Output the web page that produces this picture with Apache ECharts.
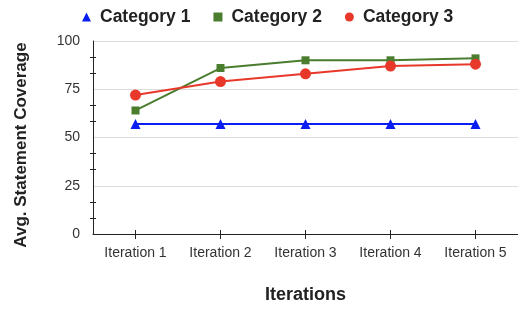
<!DOCTYPE html>
<html><head><meta charset="utf-8">
<script src="https://cdn.jsdelivr.net/npm/echarts@6/dist/echarts.min.js"></script>
<style>html,body{margin:0;padding:0;background:#fff}#c{width:518px;height:309px}</style>
</head><body><div id="c"></div>
<script>
const categories = ['Iteration 1','Iteration 2','Iteration 3','Iteration 4','Iteration 5'];
const cat1 = [57, 57, 57, 57, 57];
const cat2 = [64, 86, 90, 90, 91];
const cat3 = [72, 79, 83, 87, 88];
const seriesNames = ['Category 1','Category 2','Category 3'];

const chart = echarts.init(document.getElementById('c'));
const font = 'Liberation Sans, Arial, sans-serif';
chart.setOption({
  animation:false,
  textStyle:{fontFamily:font},
  legend:{
    top:3, left:77, itemGap:23, itemWidth:9, itemHeight:9,
    textStyle:{fontSize:17.5, fontWeight:'bold', color:'#222', fontFamily:font, padding:[0,0,0,4]},
    data:[{name:seriesNames[0], icon:'triangle'},{name:seriesNames[1], icon:'rect'},{name:seriesNames[2], icon:'circle'}]
  },
  grid:{left:93, right:-4, top:41, bottom:75, containLabel:false},
  xAxis:[{
    type:'category', data:categories, boundaryGap:true, position:'bottom',
    name:'Iterations', nameLocation:'middle', nameGap:52,
    nameTextStyle:{fontSize:18, fontWeight:'bold', color:'#222', fontFamily:font},
    axisLine:{lineStyle:{color:'#222', width:1}},
    axisTick:{show:true, alignWithLabel:true, length:5, lineStyle:{color:'#222'}},
    axisLabel:{fontSize:14, color:'#333', margin:12, fontFamily:font}
  },{
    type:'category', data:categories, boundaryGap:true, position:'bottom',
    axisLine:{show:false},
    axisTick:{show:true, inside:true, alignWithLabel:true, length:4, lineStyle:{color:'#222'}},
    axisLabel:{show:false}, splitLine:{show:false}
  }],
  yAxis:[{
    type:'value', min:0, max:100, interval:25, position:'left',
    name:'Avg. Statement Coverage', nameLocation:'middle', nameGap:63, nameRotate:90,
    nameTextStyle:{fontSize:17, fontWeight:'bold', color:'#222', fontFamily:font, padding:[0,15,0,0]},
    axisLine:{show:true, lineStyle:{color:'#222', width:1}},
    axisTick:{show:false},
    minorTick:{show:true, splitNumber:3, length:3, lineStyle:{color:'#222'}},
    axisLabel:{fontSize:14, color:'#333', margin:13, fontFamily:font},
    splitLine:{show:true, lineStyle:{color:'#dcdcdc', width:1}}
  },{
    type:'value', min:0, max:100, interval:25, position:'left', offset:-3,
    axisLine:{show:false},
    axisTick:{show:false},
    minorTick:{show:true, splitNumber:3, length:6, lineStyle:{color:'#222'}},
    axisLabel:{show:false}, splitLine:{show:false}
  }],
  series:[
    {name:seriesNames[0], type:'line', data:cat1, symbol:'triangle', symbolSize:10,
     itemStyle:{color:'#0a1ef2'}, lineStyle:{color:'#0a1ef2', width:2}, z:3},
    {name:seriesNames[1], type:'line', data:cat2, symbol:'rect', symbolSize:8,
     itemStyle:{color:'#4a7d2e'}, lineStyle:{color:'#4a7d2e', width:2}, z:4},
    {name:seriesNames[2], type:'line', data:cat3, symbol:'circle', symbolSize:11,
     itemStyle:{color:'#e8382a'}, lineStyle:{color:'#e8382a', width:2}, z:5}
  ]
});
</script></body></html>
